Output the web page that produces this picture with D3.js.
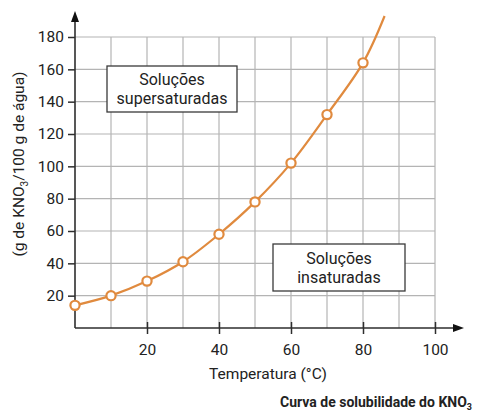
<!DOCTYPE html>
<html><head><meta charset="utf-8">
<script src="https://cdn.jsdelivr.net/npm/d3@7"></script>
<style>
html,body{margin:0;padding:0;background:#fff;}
text{font-family:Roboto,"Noto Sans",sans-serif;fill:#222;}
</style></head>
<body><svg id="c" width="479" height="414"></svg>
<script>
// Data
const temps = [0, 10, 20, 30, 40, 50, 60, 70, 80];
const solub = [14, 20, 29, 41, 58, 78, 102, 132, 164];
// curve continues past the last marked point
const tailTemps = [86];
const tailSolub = [193];
const xTicks = [20, 40, 60, 80, 100];
const yTicks = [20, 40, 60, 80, 100, 120, 140, 160, 180];
const xGrid = [10, 20, 30, 40, 50, 60, 70, 80, 90, 100];
const labelSuper = ["Soluções", "supersaturadas"];
const labelInsat = ["Soluções", "insaturadas"];

const svg = d3.select("#c");
const x = d3.scaleLinear().domain([0, 100]).range([75, 435]);
const y = d3.scaleLinear().domain([0, 180]).range([328, 37]);
const orange = "#E08A3E";
const gridC = "#b4b4b4";
const axisC = "#2e2e2e";

// grid
svg.append("g").selectAll("line").data(xGrid).join("line")
  .attr("x1", d => x(d)).attr("x2", d => x(d))
  .attr("y1", y(0)).attr("y2", y(180))
  .attr("stroke", gridC).attr("stroke-width", 1.2);
svg.append("g").selectAll("line").data(yTicks).join("line")
  .attr("x1", x(0)).attr("x2", x(100))
  .attr("y1", d => y(d)).attr("y2", d => y(d))
  .attr("stroke", gridC).attr("stroke-width", 1.2);

// y axis
const yAxis = d3.axisLeft(y).tickValues(yTicks).tickSize(7).tickPadding(4);
const gy = svg.append("g").attr("transform", `translate(${x(0)},0)`).call(yAxis);
gy.select(".domain").remove();
gy.selectAll(".tick line").attr("stroke", axisC).attr("stroke-width", 1.5);
gy.selectAll(".tick text").style("font-size", "15.5px").attr("fill", "#222");
svg.append("line").attr("x1", x(0)).attr("x2", x(0)).attr("y1", y(0)).attr("y2", 20)
  .attr("stroke", axisC).attr("stroke-width", 1.6);
svg.append("path").attr("d", `M${x(0)-4},22 L${x(0)},11 L${x(0)+4},22 Z`).attr("fill", "#111");

// x axis
const xAxis = d3.axisBottom(x).tickValues(xTicks).tickSize(6).tickPadding(10);
const gx = svg.append("g").attr("transform", `translate(0,${y(0)})`).call(xAxis);
gx.select(".domain").remove();
gx.selectAll(".tick line").attr("y1", -6).attr("stroke", axisC).attr("stroke-width", 1.5);
gx.selectAll(".tick text").style("font-size", "15.5px").attr("fill", "#222");
svg.append("line").attr("x1", x(0)).attr("x2", 455).attr("y1", y(0)).attr("y2", y(0))
  .attr("stroke", axisC).attr("stroke-width", 1.6);
svg.append("path").attr("d", `M453,${y(0)-4} L464,${y(0)} L453,${y(0)+4} Z`).attr("fill", "#111");

// curve
const pts = temps.map((t, i) => [t, solub[i]]).concat(tailTemps.map((t, i) => [t, tailSolub[i]]));
svg.append("path").datum(pts)
  .attr("d", d3.line().x(d => x(d[0])).y(d => y(d[1])).curve(d3.curveCatmullRom.alpha(0.5)))
  .attr("fill", "none").attr("stroke", orange).attr("stroke-width", 2.2);
svg.append("g").selectAll("circle").data(temps.map((t, i) => [t, solub[i]])).join("circle")
  .attr("cx", d => x(d[0])).attr("cy", d => y(d[1])).attr("r", 4.6)
  .attr("fill", "#fff").attr("stroke", orange).attr("stroke-width", 2.2);

// annotation boxes
function box(x0, x1, y0, y1, lines) {
  const g = svg.append("g");
  g.append("rect").attr("x", x0).attr("y", y0).attr("width", x1 - x0).attr("height", y1 - y0)
    .attr("fill", "#fff").attr("stroke", "#3a3a3a").attr("stroke-width", 1.3);
  const cx = (x0 + x1) / 2, cy = (y0 + y1) / 2;
  g.selectAll("text").data(lines).join("text")
    .attr("x", cx).attr("y", (d, i) => cy + (i - 0.5) * 19 + 5.5)
    .attr("text-anchor", "middle").style("font-size", "16px").text(d => d);
}
box(107, 237, 66, 112, labelSuper);
box(273, 405, 244, 291, labelInsat);

// axis titles
svg.append("text").attr("x", 268).attr("y", 379).attr("text-anchor", "middle")
  .style("font-size", "15.5px").text("Temperatura (°C)");
const yl = svg.append("text").attr("transform", "translate(24,164) rotate(-90)")
  .attr("text-anchor", "middle").style("font-size", "15.5px");
yl.append("tspan").text("(g de KNO");
yl.append("tspan").attr("dy", 4).style("font-size", "10px").text("3");
yl.append("tspan").attr("dy", -4).text("/100 g de água)");

// caption
const cap = svg.append("text").attr("x", 472).attr("y", 407).attr("text-anchor", "end")
  .style("font-size", "14px").style("font-weight", "bold").attr("fill", "#111");
cap.append("tspan").text("Curva de solubilidade do KNO");
cap.append("tspan").attr("dy", 3).style("font-size", "9px").text("3");
</script></body></html>
